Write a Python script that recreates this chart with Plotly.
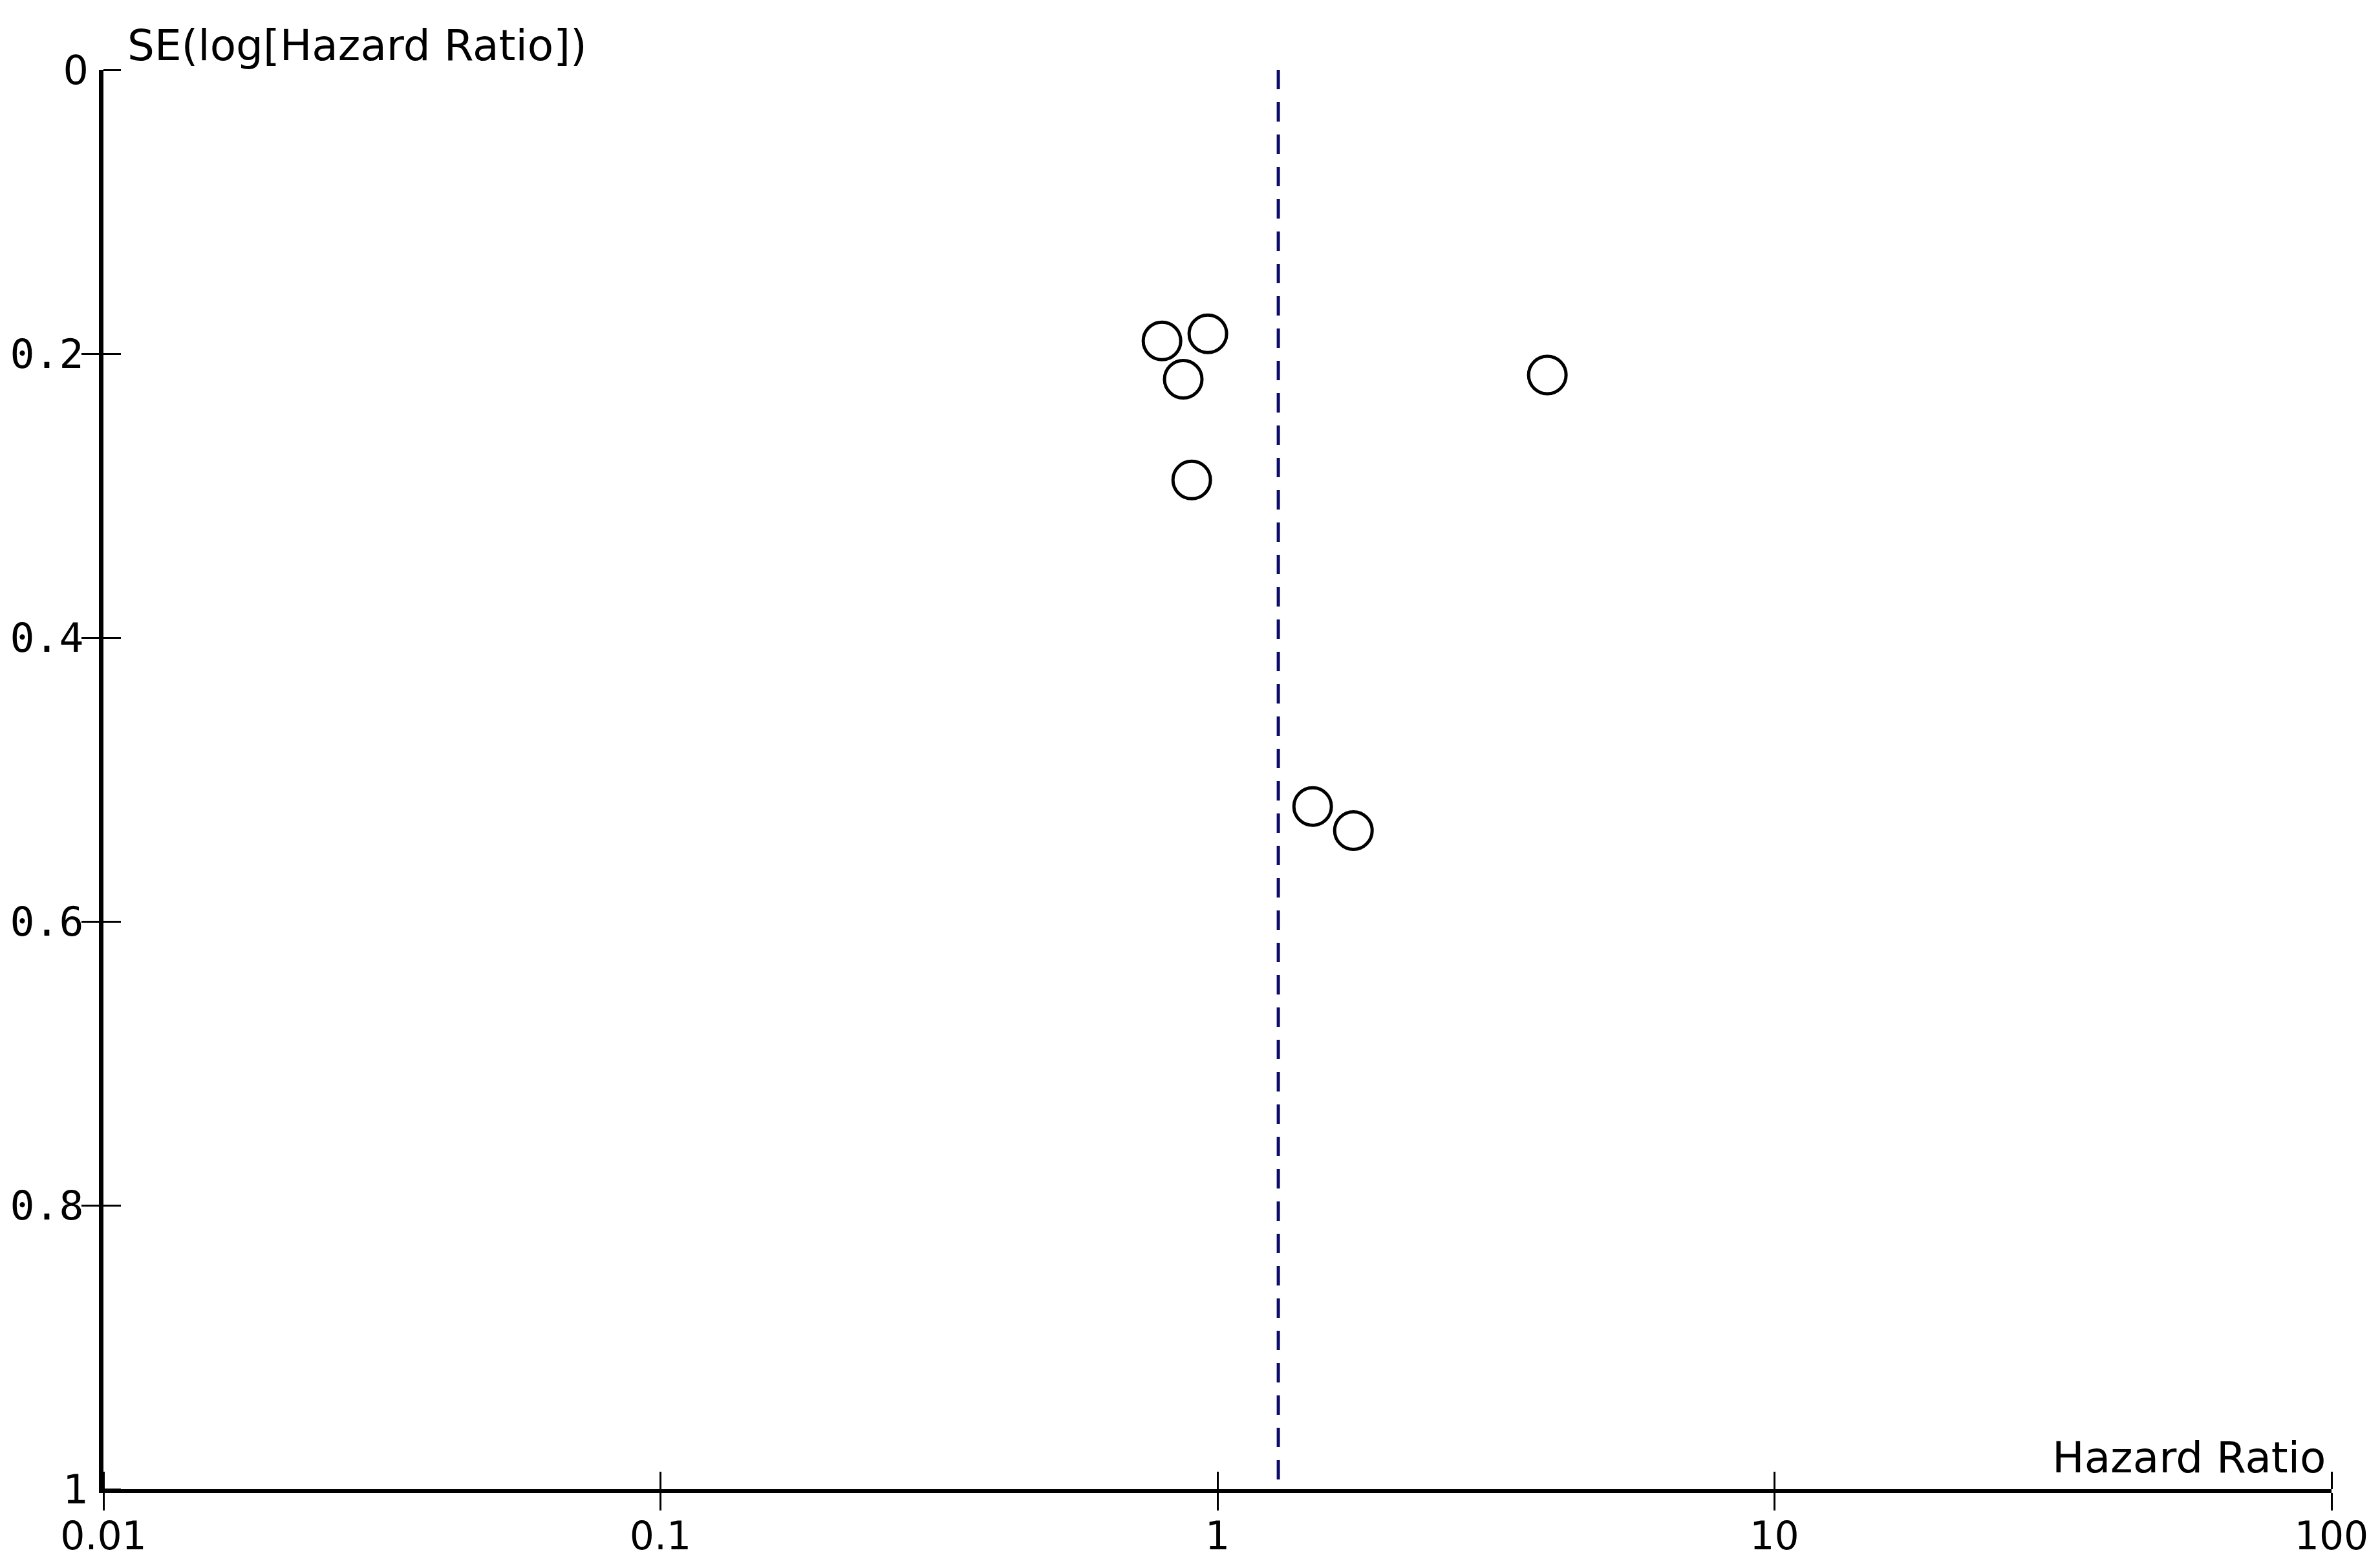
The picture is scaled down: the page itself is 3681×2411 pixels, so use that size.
import plotly.graph_objects as go

# Study estimates
hazard_ratio = [0.795, 0.961, 0.868, 0.899, 3.91, 1.482, 1.754]
se_log_hr = [0.191, 0.186, 0.218, 0.289, 0.215, 0.519, 0.536]

# Pooled estimate line
pooled_hr = 1.286
pooled_se_span = [0.0, 1.0]

x_tick_vals = [0.01, 0.1, 1, 10, 100]
x_tick_text = ["0.01", "0.1", "1", "10", "100"]
y_tick_vals = [0, 0.2, 0.4, 0.6, 0.8, 1]
y_tick_text_mid = ["", "0.2", "0.4", "0.6", "0.8", ""]
y_tick_text_end = ["0", "", "", "", "", "1"]

x_title = "Hazard Ratio"
y_title = "SE(log[Hazard Ratio])"

fig = go.Figure()

fig.add_trace(go.Scatter(
    x=[pooled_hr, pooled_hr], y=pooled_se_span,
    mode="lines", xaxis="x2", yaxis="y2",
    line=dict(color="#0c0c6a", width=5, dash="30px,20px"),
    hoverinfo="skip", showlegend=False,
))

fig.add_trace(go.Scatter(
    x=hazard_ratio, y=se_log_hr, mode="markers",
    marker=dict(symbol="circle-open", size=58, color="black",
                line=dict(color="black", width=5)),
    showlegend=False,
))

common_x = dict(type="log", range=[-2, 2], showgrid=False, zeroline=False,
                automargin=False, tickvals=x_tick_vals)
common_y = dict(range=[1, 0], showgrid=False, zeroline=False,
                automargin=False, tickvals=y_tick_vals)

# The page body has an 8px margin, so the figure is offset by (8, 8).
fig.update_layout(
    width=3673, height=2403,
    margin=dict(l=152, r=75, t=100, b=108),
    paper_bgcolor="white", plot_bgcolor="white",
    xaxis=dict(**common_x, ticks="outside", ticklen=27, tickwidth=3,
               tickcolor="black", ticktext=x_tick_text,
               showline=True, linewidth=6, linecolor="black",
               ticklabelstandoff=-12,
               minor=dict(ticks="inside", tickvals=x_tick_vals, ticklen=27,
                          tickwidth=3, tickcolor="black", showgrid=False),
               tickfont=dict(family="DejaVu Sans", size=60, color="black")),
    xaxis2=dict(**common_x, ticks="", overlaying="x", anchor="y2",
                side="bottom", showticklabels=False, showline=False),
    yaxis=dict(**common_y, ticks="outside", ticklen=27, tickwidth=3,
               tickcolor="black", ticktext=y_tick_text_mid,
               showline=True, linewidth=7, linecolor="black",
               ticklabelstandoff=-16,
               minor=dict(ticks="inside", tickvals=y_tick_vals, ticklen=27,
                          tickwidth=3, tickcolor="black", showgrid=False),
               tickfont=dict(family="DejaVu Sans Mono", size=63, color="black")),
    yaxis2=dict(**common_y, ticks="", overlaying="y", anchor="x2",
                side="left", ticktext=y_tick_text_end, showline=False,
                ticklabelstandoff=22,
                tickfont=dict(family="DejaVu Sans", size=62, color="black")),
    annotations=[
        dict(text=y_title, xref="paper", yref="paper", x=0.0102, y=1.0173,
             xanchor="left", yanchor="middle", showarrow=False,
             font=dict(family="DejaVu Sans", size=66, color="black")),
        dict(text=x_title, xref="paper", yref="paper", x=0.998, y=0.0223,
             xanchor="right", yanchor="middle", showarrow=False,
             font=dict(family="DejaVu Sans", size=66, color="black")),
    ],
)

fig.write_html("out.html")
